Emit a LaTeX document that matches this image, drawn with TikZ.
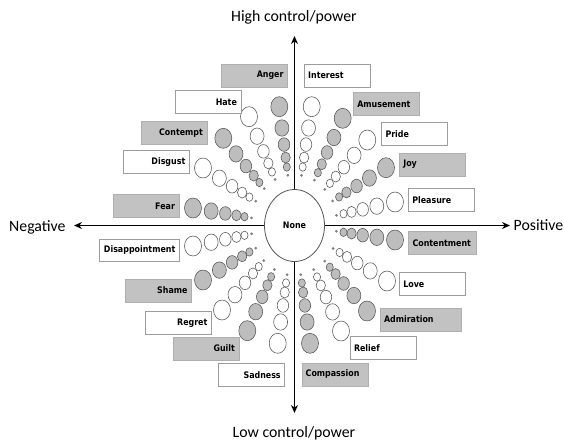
\documentclass[tikz,border=0pt]{standalone}
\usepackage{fontspec}
\setmainfont{Carlito}
\newfontfamily\boxfont{DejaVu Sans}[FakeStretch=0.88]
\usetikzlibrary{calc,arrows.meta,shapes.geometric}
\definecolor{fillgray}{HTML}{BDBDBD}
\definecolor{boxgray}{HTML}{C2C2C2}
\definecolor{edgegray}{HTML}{9C9C9C}
\definecolor{circedge}{HTML}{555555}
\begin{document}
\begin{tikzpicture}[x=1pt,y=-1pt,
  lbl/.style={font=\boxfont\bfseries\fontsize{9}{10}\selectfont, minimum height=23pt, inner xsep=4pt, inner ysep=0pt, anchor=center},
  gbox/.style={lbl, fill=boxgray, draw=boxgray!90!black, line width=0.4pt},
  wbox/.style={lbl, fill=white, draw=edgegray, line width=0.7pt},
  rt/.style={text width=#1, align=right},
  rt/.default=58pt,
  lt/.style={text width=#1, align=left},
  lt/.default=58pt,
  bub/.style={ellipse, draw=circedge, line width=0.55pt, inner sep=0pt},
  spokedot/.style={circle, fill=gray, inner sep=0pt, minimum size=3pt},
  axis/.style={line width=1.7pt, -{Stealth[length=8pt,width=7pt]}},
  axlbl/.style={font=\fontsize{15.8}{18}\selectfont, inner sep=0pt}
]
\useasboundingbox (0,0) rectangle (564,445);
\coordinate (ctr) at (294,225);

% spokes: outer point / fill
\foreach \px/\py/\col [count=\k] in {
  311.7/106.7/white, 342.7/118.3/fillgray, 367.3/140/white, 386/167.7/fillgray,
  395/202/white, 395/240/fillgray, 387/281/white, 367/311/fillgray,
  341/331/white, 310/343.3/fillgray, 277.7/343.3/white, 247.3/330.7/fillgray,
  222/310/white, 203/280/fillgray, 193/246/white, 193/208/fillgray,
  203/168/white, 223.3/138.3/fillgray, 249/116.7/white, 279.3/106.7/fillgray}{
  \foreach \f/\r [count=\j] in {1/10,0.82/8.2,0.68/6.8,0.57/5.5,0.49/4.2}{
    \node[bub, fill=\col, minimum width=\r*1.7, minimum height=\r*2] (b\k-\j) at ($(ctr)!\f!(\px,\py)$) {};
  }
  \node[spokedot] (d\k) at ($(ctr)!0.42!(\px,\py)$) {};
}

% centre
\node[ellipse, draw=circedge, line width=0.8pt, fill=white, minimum width=60pt, minimum height=72pt, inner sep=0pt, font=\boxfont\bfseries\fontsize{9}{10}\selectfont] (none) at (294.5,225.5) {None};

% axes
\coordinate (topc) at (294.5,36);
\coordinate (botc) at (294.5,413);
\coordinate (leftc) at (74,225.5);
\coordinate (rightc) at (510,225.5);
\draw[axis] (none.north) -- (topc);
\draw[axis] (none.south) -- (botc);
\draw[axis] (none.west) -- (leftc);
\draw[axis] (none.east) -- (rightc);

\node[axlbl] (hi) at (294,17) {High control/power};
\node[axlbl] (lo) at (294,433) {Low control/power};
\node[axlbl, anchor=west] (neg) at (9,227) {Negative};
\node[axlbl, anchor=east] (pos) at (563.5,225) {Positive};

% labels
\node[gbox, rt] (anger) at (254.5,75.3) {Anger};
\node[wbox, lt] (interest) at (337.2,75.7) {Interest};
\node[wbox, rt] (hate) at (207.9,102) {Hate};
\node[gbox, lt] (amusement) at (386.3,103.9) {Amusement};
\node[gbox, rt] (contempt) at (173.9,133) {Contempt};
\node[wbox, lt] (pride) at (414.5,133.7) {Pride};
\node[wbox, rt] (disgust) at (156.3,162) {Disgust};
\node[gbox, lt] (joy) at (432.3,164.5) {Joy};
\node[wbox, lt] (pleasure) at (441.3,200.3) {Pleasure};
\node[gbox, rt] (fear) at (145.9,206) {Fear};
\node[wbox, rt=72pt, minimum height=22pt] (disappointment) at (139.3,250) {Disappointment};
\node[gbox, lt=60pt] (contentment) at (442.5,243) {Contentment};
\node[wbox, lt] (love) at (432.3,284.2) {Love};
\node[gbox, rt] (shame) at (158.5,290.5) {Shame};
\node[gbox, lt=73pt] (admiration) at (420.5,319.2) {Admiration};
\node[wbox, rt] (regret) at (178.4,322.7) {Regret};
\node[wbox, lt] (relief) at (383,348) {Relief};
\node[gbox, rt] (guilt) at (205.9,348.3) {Guilt};
\node[wbox, rt] (sadness) at (251.7,374.7) {Sadness};
\node[gbox, lt] (compassion) at (334.7,374.3) {Compassion};
\end{tikzpicture}
\end{document}
